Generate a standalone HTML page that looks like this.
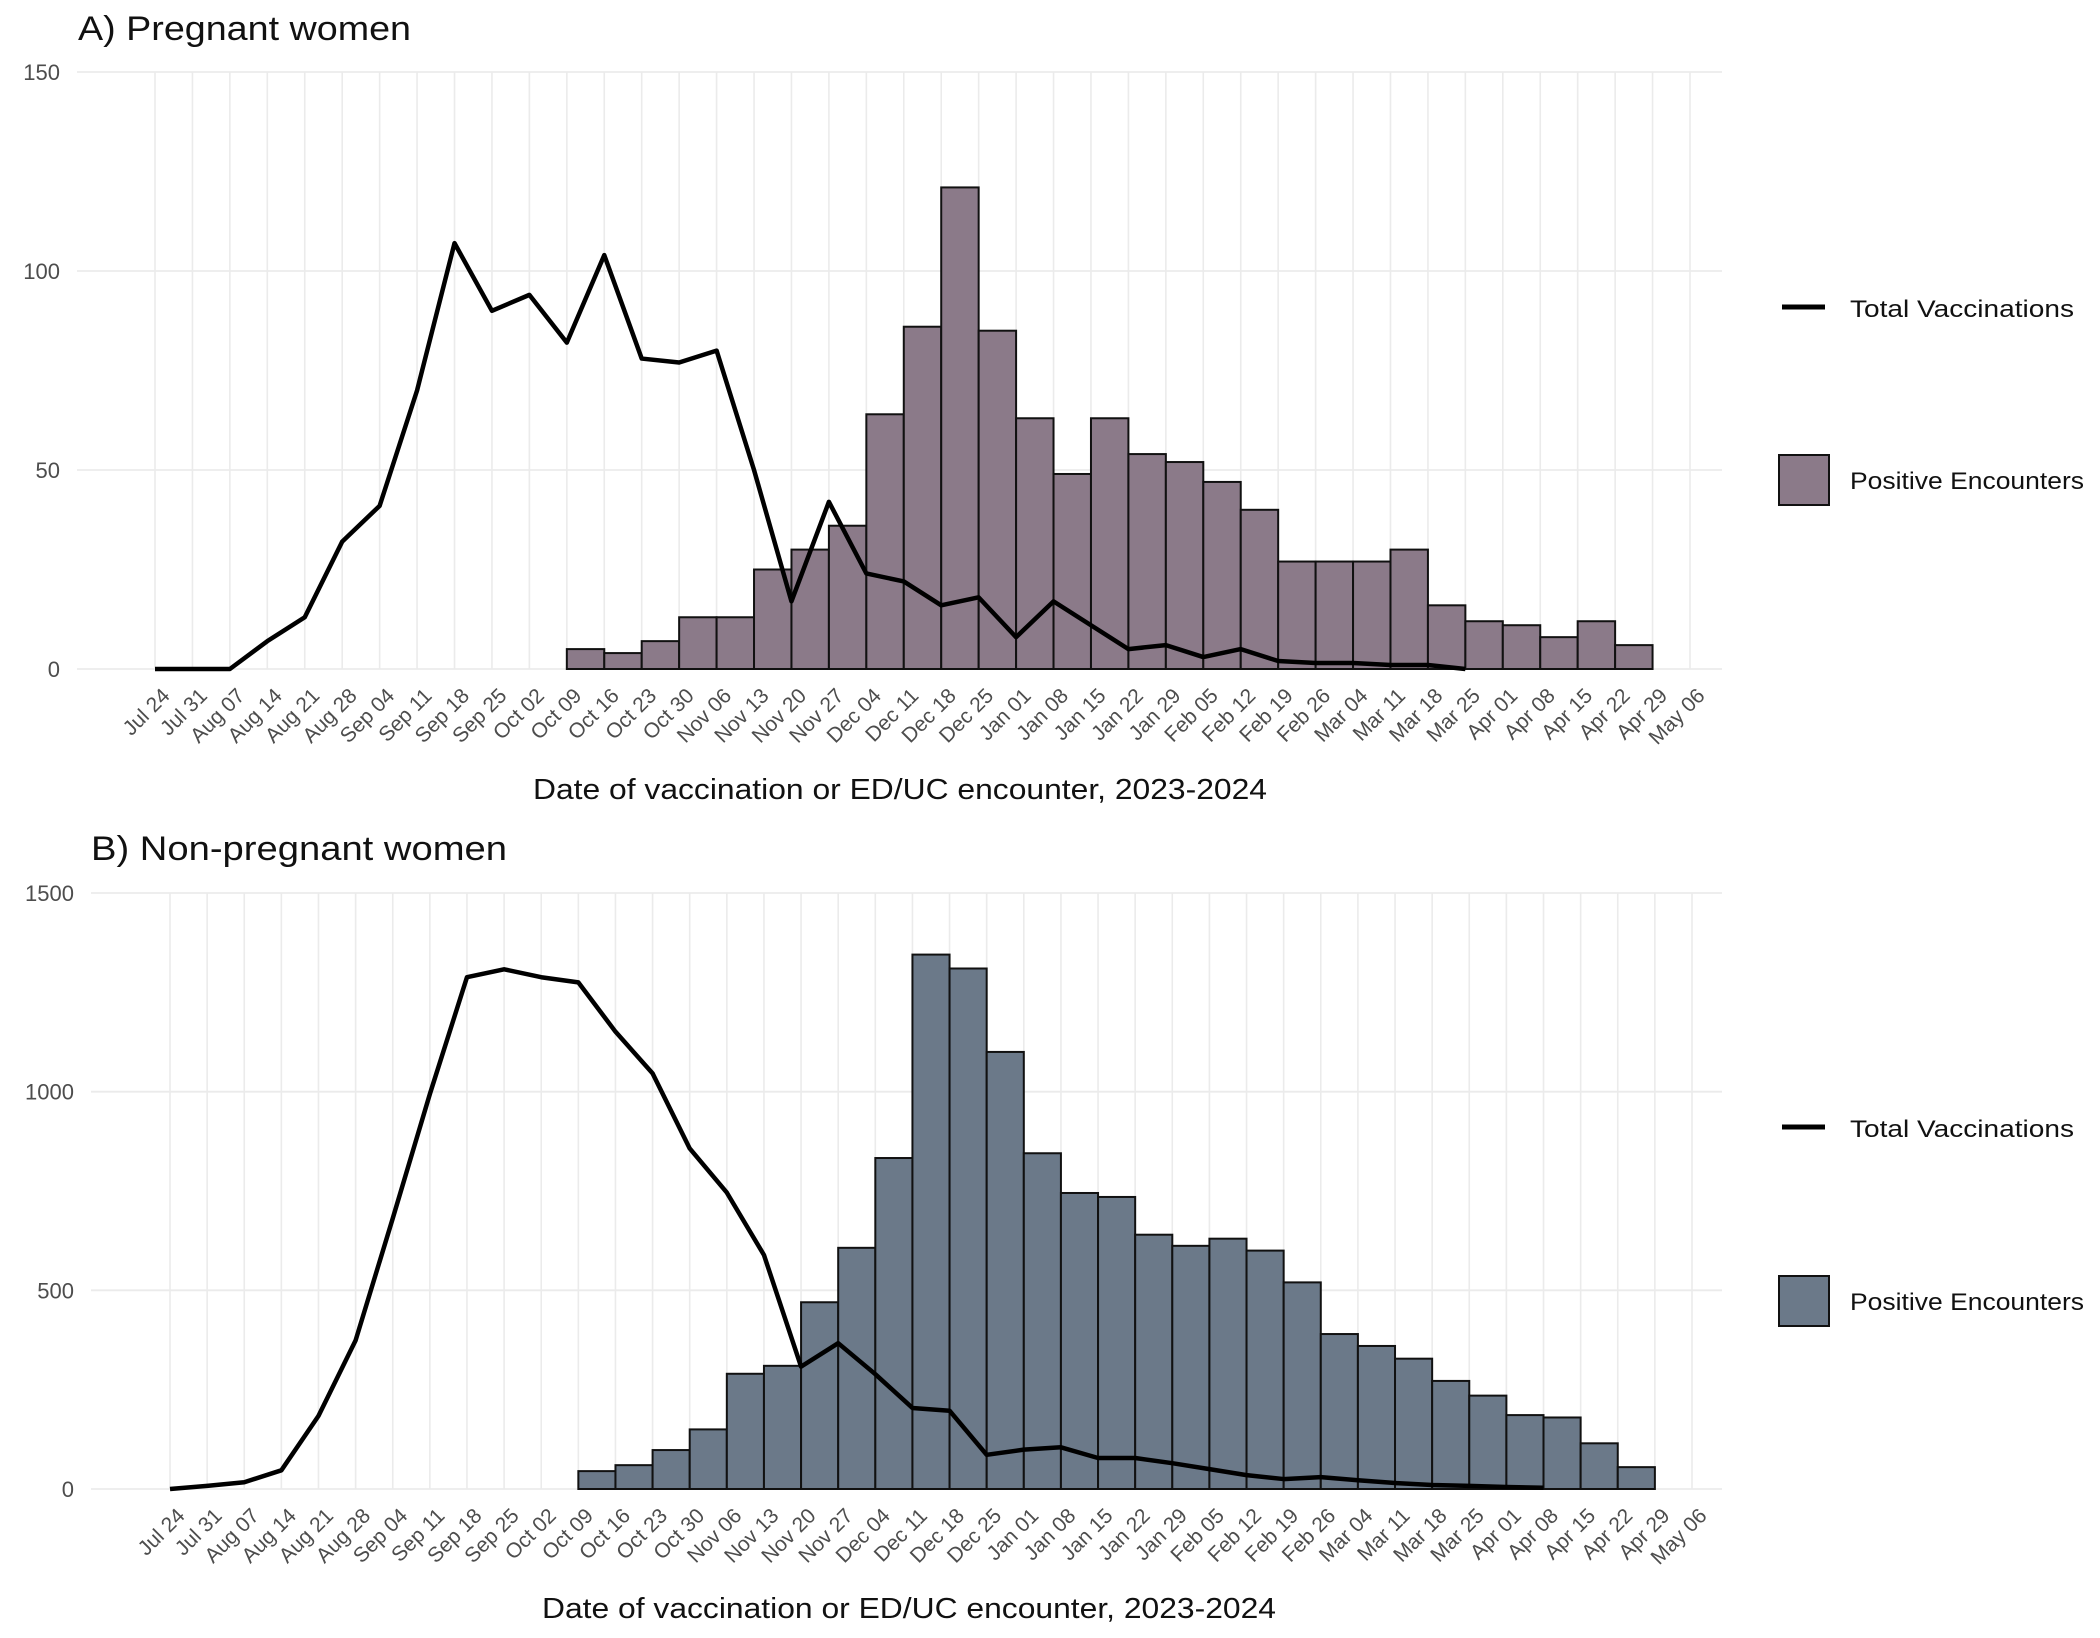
<!DOCTYPE html>
<html><head><meta charset="utf-8"><style>
html,body{margin:0;padding:0;background:#fff;}
svg{display:block;font-family:"Liberation Sans",sans-serif;}
</style></head><body>
<svg id="chart" width="2100" height="1638" viewBox="0 0 2100 1638" xmlns="http://www.w3.org/2000/svg"></svg>
<script>
const weekLabels = ["Jul 24","Jul 31","Aug 07","Aug 14","Aug 21","Aug 28","Sep 04","Sep 11","Sep 18","Sep 25","Oct 02","Oct 09","Oct 16","Oct 23","Oct 30","Nov 06","Nov 13","Nov 20","Nov 27","Dec 04","Dec 11","Dec 18","Dec 25","Jan 01","Jan 08","Jan 15","Jan 22","Jan 29","Feb 05","Feb 12","Feb 19","Feb 26","Mar 04","Mar 11","Mar 18","Mar 25","Apr 01","Apr 08","Apr 15","Apr 22","Apr 29","May 06"];
const barStartIndex = 11;
const vaxPregnant = [0,0,0,7,13,32,41,70,107,90,94,82,104,78,77,80,50,17,42,24,22,16,18,8,17,11,5,6,3,5,2,1.5,1.5,1,1,0];
const posPregnant = [5,4,7,13,13,25,30,36,64,86,121,85,63,49,63,54,52,47,40,27,27,27,30,16,12,11,8,12,6];
const vaxNonPregnant = [0,8,17,47,184,374,681,994,1288,1308,1288,1275,1151,1046,857,746,589,308,367,289,204,197,86,99,105,78,78,65,50,35,25,30,22,15,10,8,5,3];
const posNonPregnant = [45,60,98,150,290,310,470,607,833,1345,1310,1100,845,745,735,640,612,630,600,520,390,360,328,272,235,186,180,115,55];
const ticksA = [0,50,100,150];
const ticksB = [0,500,1000,1500];

const NS = "http://www.w3.org/2000/svg";
const svg = document.getElementById("chart");
function mk(tag, attrs, parent){
  const e = document.createElementNS(NS, tag);
  for (const k in attrs) e.setAttribute(k, attrs[k]);
  (parent||svg).appendChild(e);
  return e;
}

function panel(cfg){
  const g = mk("g", {});
  
  
  const xs = i => cfg.x0 + (cfg.x1 - cfg.x0) * i / (weekLabels.length - 1);
  const ys = v => cfg.y0 - (cfg.y0 - cfg.yTop) * v / cfg.ymax;
  const t = mk("text", {x: cfg.titleX, y: cfg.titleY, "font-size": 34, fill: "#111", textLength: cfg.titleLen, lengthAdjust: "spacingAndGlyphs"}, g);
  t.textContent = cfg.title;
  
  
  weekLabels.forEach((lab, i) => {
    const l = mk("line", {x1: xs(i), x2: xs(i), y1: cfg.yTop, y2: cfg.y0, stroke: "#ebebeb", "stroke-width": 1.6}, g);
    
    
  });
  cfg.ticks.forEach(v => {
    const l = mk("line", {x1: cfg.left, x2: cfg.right, y1: ys(v), y2: ys(v), stroke: "#ebebeb", "stroke-width": 1.8}, g);
    
    
    const tx = mk("text", {x: cfg.left - 17, y: ys(v) + 8, "font-size": 22, fill: "#4d4d4d", "text-anchor": "end"}, g);
    tx.textContent = v;
    
    
  });
  weekLabels.forEach((lab, i) => {
    const x = xs(i) + 16, y = cfg.y0 + 28;
    const tx = mk("text", {x: x, y: y, "font-size": 21, fill: "#4d4d4d", "text-anchor": "end", transform: `rotate(-45 ${x} ${y})`}, g);
    tx.textContent = lab;
    
    
  });
  cfg.bars.forEach((v, k) => {
    const i = barStartIndex + k;
    const r = mk("rect", {x: xs(i), y: ys(v), width: xs(i+1) - xs(i), height: cfg.y0 - ys(v), fill: cfg.color, stroke: "#111", "stroke-width": 2}, g);
    
    
  });
  const pts = cfg.line.map((v, i) => xs(i) + "," + ys(v)).join(" ");
  const pl = mk("polyline", {points: pts, fill: "none", stroke: "#000", "stroke-width": 4.5, "stroke-linejoin": "round"}, g);
  
  
  const xt = mk("text", {x: cfg.axisX, y: cfg.axisY, "font-size": 29, fill: "#111", "text-anchor": "middle", textLength: 734, lengthAdjust: "spacingAndGlyphs"}, g);
  xt.textContent = "Date of vaccination or ED/UC encounter, 2023-2024";
  
  
  const lg = mk("g", {}, g);
  
  
  const ll = mk("line", {x1: 1782, x2: 1825, y1: cfg.legLineY, y2: cfg.legLineY, stroke: "#000", "stroke-width": 5}, lg);
  
  
  const lt1 = mk("text", {x: 1850, y: cfg.legLineY + 10, "font-size": 24, fill: "#111", textLength: 224, lengthAdjust: "spacingAndGlyphs"}, lg);
  lt1.textContent = "Total Vaccinations";
  
  
  const lb = mk("rect", {x: 1779, y: cfg.legBoxY, width: 50, height: 50, fill: cfg.color, stroke: "#111", "stroke-width": 2}, lg);
  
  
  const lt2 = mk("text", {x: 1850, y: cfg.legBoxY + 34, "font-size": 24, fill: "#111", textLength: 234, lengthAdjust: "spacingAndGlyphs"}, lg);
  lt2.textContent = "Positive Encounters";
  
  
}

panel({name: "panel-a-pregnant", title: "A) Pregnant women", titleX: 78, titleY: 40, titleLen: 333,
  left: 77, right: 1722, x0: 155, x1: 1690, y0: 669, yTop: 72, ymax: 150, ticks: ticksA,
  bars: posPregnant, line: vaxPregnant, color: "#8B7A89",
  axisX: 900, axisY: 799, legLineY: 307, legBoxY: 455});
panel({name: "panel-b-non-pregnant", title: "B) Non-pregnant women", titleX: 91, titleY: 860, titleLen: 416,
  left: 91, right: 1722, x0: 170, x1: 1692, y0: 1489, yTop: 893, ymax: 1500, ticks: ticksB,
  bars: posNonPregnant, line: vaxNonPregnant, color: "#6B7989",
  axisX: 909, axisY: 1618, legLineY: 1127, legBoxY: 1276});
</script>
</body></html>
